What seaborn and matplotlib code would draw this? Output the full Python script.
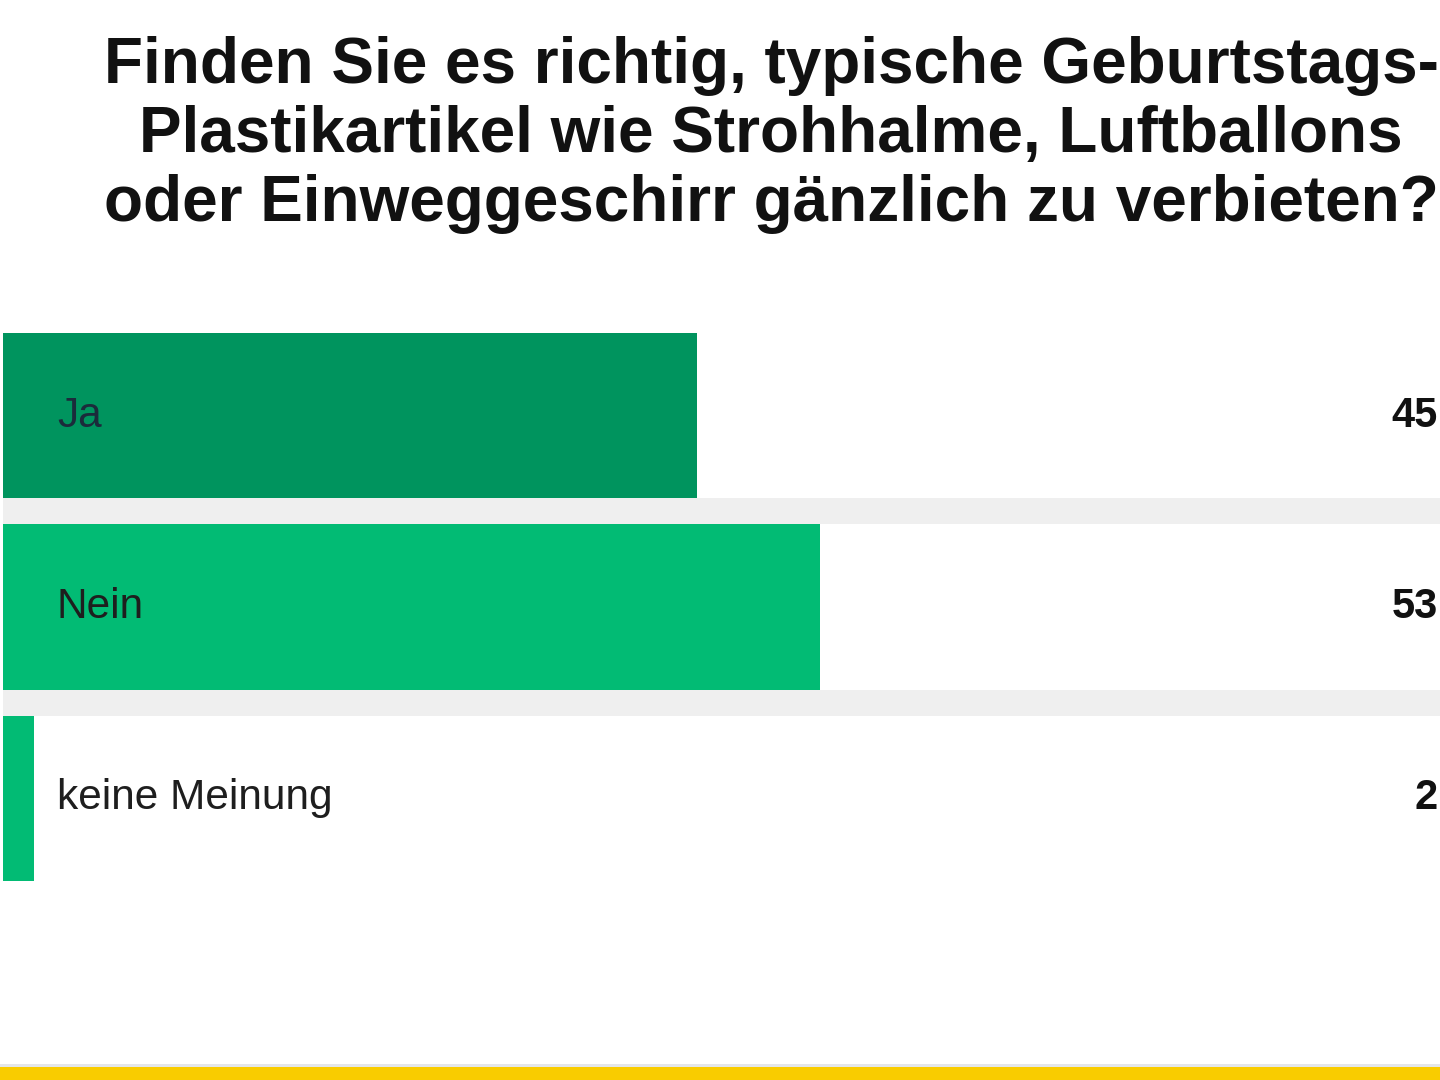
import matplotlib
matplotlib.use("Agg")
import matplotlib.pyplot as plt
import seaborn as sns
import pandas as pd
from matplotlib.patches import Rectangle

# Umfragedaten
antworten = ["Ja", "Nein", "keine Meinung"]
prozente = [45, 53, 2]
farben = ["#00945e", "#02bb74", "#02bb74"]
titel = ("Finden Sie es richtig, typische Geburtstags-\n"
         "Plastikartikel wie Strohhalme, Luftballons\n"
         "oder Einweggeschirr gänzlich zu verbieten?")

df = pd.DataFrame({"antwort": antworten, "prozent": prozente})

sns.set_theme(style="white")
plt.rcParams['font.family'] = ['Liberation Sans', 'DejaVu Sans']

W, H = 1440, 1080
fig = plt.figure(figsize=(W / 100, H / 100), dpi=100)
fig.patch.set_facecolor("white")

# Achse geht rechts ueber den Bildrand hinaus (abgeschnittener Screenshot)
left, right, top, bottom = 3, 1545, 333, 881
ax = fig.add_axes([left / W, 1 - bottom / H, (right - left) / W, (bottom - top) / H])
ax.set_facecolor("#efefef")

# weisse Hintergrundfelder, dann die Balken
sns.barplot(data=df, x=[100] * len(antworten), y="antwort", color="white",
            saturation=1, width=0.864, orient="h", ax=ax, zorder=1)
sns.barplot(data=df, x="prozent", y="antwort", hue="antwort", palette=farben,
            saturation=1, width=0.864, orient="h", legend=False, ax=ax, zorder=2)
for p in ax.patches:
    p.set_linewidth(0)

ax.set_xlim(0, 100)
ax.set_ylim(len(antworten) - 0.568, -0.432)
ax.set_xlabel("")
ax.set_ylabel("")
ax.set_xticks([])
ax.set_yticks([])
for s in ax.spines.values():
    s.set_visible(False)

# Wert rechts, am Bildrand
x_wert = (1438 - left) / (right - left) * 100
for i, (a, v) in enumerate(zip(antworten, prozente)):
    ax.text(3.5, i, a, ha="left", va="center", fontsize=30.5,
            color="#1b2b3b" if i == 0 else "#1e1e1e", zorder=3)
    ax.text(x_wert, i, f"{v}", ha="right", va="center", fontsize=30,
            fontweight="bold", color="#111111", zorder=3)

fig.text(771 / W, 1 - 135 / H, titel, ha="center", va="center",
         fontsize=46, fontweight="bold", color="#111111", linespacing=1.2)

# gelber Streifen unten
fig.patches.append(Rectangle((0, 0), 1, 13 / H, transform=fig.transFigure,
                             facecolor="#f9cc00", edgecolor="none"))
fig.patches.append(Rectangle((0, 13 / H), 1, 3 / H, transform=fig.transFigure,
                             facecolor="#e4e6ea", edgecolor="none"))

fig.savefig("out.png", dpi=100)
